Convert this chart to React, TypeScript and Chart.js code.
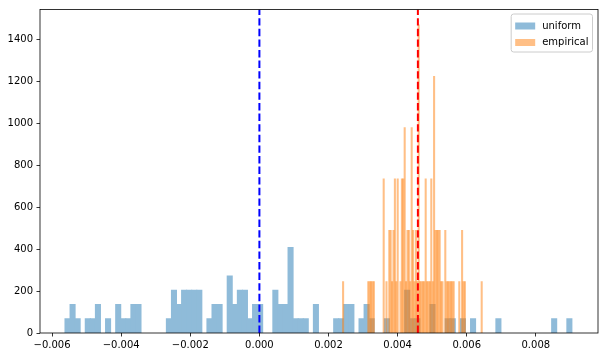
import React, { useEffect, useRef } from 'react';
import { Chart, registerables } from 'chart.js';

Chart.register(...registerables);

// ---- data ----
const seriesLabels = ['uniform', 'empirical'];

// histogram bin ranges (100 equal bins each)
const uniformRange = [-0.005627, 0.009045];
const empiricalRange = [0.002402, 0.006454];

// bar heights (density) per bin
const uniformDensity = [
  68, 136, 68, 0, 68, 68, 136, 0, 68, 0,
  136, 68, 68, 136, 136, 0, 0, 0, 0, 0,
  68, 204, 136, 204, 204, 204, 204, 0, 68, 136,
  136, 0, 272, 136, 204, 204, 68, 136, 136, 0,
  0, 204, 136, 136, 408, 68, 68, 68, 0, 136,
  0, 0, 0, 68, 68, 136, 136, 0, 68, 136,
  68, 0, 0, 68, 0, 0, 0, 204, 68, 68,
  0, 0, 136, 0, 0, 68, 68, 0, 68, 0,
  68, 0, 0, 0, 0, 68, 0, 0, 0, 0,
  0, 0, 0, 0, 0, 0, 68, 0, 0, 68,
];

const empiricalDensity = [
  245, 0, 0, 0, 0, 0, 0, 0, 0, 0,
  0, 0, 0, 0, 0, 0, 0, 0, 245, 245,
  245, 245, 245, 0, 0, 0, 0, 0, 0, 735,
  0, 245, 0, 490, 490, 245, 490, 735, 245, 735,
  0, 245, 735, 735, 980, 245, 490, 490, 245, 980,
  490, 245, 490, 245, 1470, 245, 245, 245, 245, 735,
  245, 245, 245, 735, 245, 1225, 490, 490, 490, 490,
  245, 245, 0, 490, 245, 245, 245, 245, 245, 245,
  0, 0, 0, 245, 0, 490, 245, 245, 0, 0,
  0, 0, 0, 0, 0, 0, 0, 0, 0, 245,
];

// vertical reference lines
const zeroLineX = 0;
const empiricalMeanX = 0.004587;

// axes
const xLimits = [-0.00635, 0.0098];
const yLimits = [0, 1543.5];
const xTickStep = 0.002;
const yTickStep = 200;

// ---- helpers ----
// one bar per bin, centred on the bin; empty bins keep their slot but draw nothing
function histogramBars(range: number[], heights: number[]) {
  const n = heights.length;
  const w = (range[1] - range[0]) / n;
  return heights.map((h, i) => ({ x: range[0] + (i + 0.5) * w, y: h === 0 ? null : h }));
}

const FONT = 'DejaVu Sans';

const framePlugin = {
  id: 'frameAndLegend',
  afterDraw(chart: any) {
    const ctx = chart.ctx as CanvasRenderingContext2D;
    const { left, right, top, bottom } = chart.chartArea;
    ctx.save();
    // spines
    ctx.strokeStyle = '#000';
    ctx.lineWidth = 0.8;
    ctx.strokeRect(left, top, right - left, bottom - top);

    // legend
    const items = chart.data.datasets.filter((d: any) => d.inLegend);
    ctx.font = `10px "${FONT}"`;
    const textW = Math.max(...items.map((d: any) => ctx.measureText(d.label).width));
    const boxW = 4 + 20 + 7 + textW + 4;
    const rowH = 16.5;
    const boxH = 4 + rowH * items.length + 1;
    const bx = right - 5.5 - boxW;
    const by = top + 4.5;
    ctx.fillStyle = 'rgba(255,255,255,0.8)';
    ctx.strokeStyle = '#cccccc';
    ctx.lineWidth = 1;
    ctx.beginPath();
    (ctx as any).roundRect(bx, by, boxW, boxH, 2.5);
    ctx.fill();
    ctx.stroke();
    items.forEach((d: any, i: number) => {
      const cy = by + 4 + rowH * i + 8;
      ctx.fillStyle = d.backgroundColor;
      ctx.fillRect(bx + 4, cy - 3.5, 20, 7);
      ctx.fillStyle = '#000';
      ctx.textBaseline = 'middle';
      ctx.textAlign = 'left';
      ctx.fillText(d.label, bx + 4 + 20 + 7, cy);
    });
    ctx.restore();
  },
};

function fmtX(v: number) {
  const s = Math.abs(v).toFixed(3);
  return (v < -1e-12 ? '\u2212' : '') + s;
}

const tickFont = { family: FONT, size: 10 };

export default function App() {
  const ref = useRef<HTMLCanvasElement>(null);

  useEffect(() => {
    if (!ref.current) return;
    const chart = new Chart(ref.current, {
      type: 'bar',
      data: {
        datasets: [
          {
            type: 'bar',
            label: seriesLabels[0],
            inLegend: true,
            xAxisID: 'x',
            data: histogramBars(uniformRange, uniformDensity),
            // C0 at alpha 0.5 over white
            backgroundColor: 'rgb(143,187,217)',
            borderWidth: 0,
            barPercentage: 1,
            categoryPercentage: 1,
            inflateAmount: 0.5,
            grouped: false,
            order: 4,
          },
          {
            type: 'bar',
            label: seriesLabels[1],
            inLegend: true,
            xAxisID: 'x2',
            data: histogramBars(empiricalRange, empiricalDensity),
            backgroundColor: 'rgba(255,127,14,0.5)',
            borderWidth: 0,
            barPercentage: 1,
            categoryPercentage: 1,
            grouped: false,
            order: 3,
          },
          {
            type: 'line',
            label: 'zero',
            xAxisID: 'x',
            data: [
              { x: zeroLineX, y: yLimits[0] },
              { x: zeroLineX, y: yLimits[1] },
            ],
            borderColor: '#0000ff',
            borderWidth: 2,
            borderDash: [7.4, 3.2],
            fill: false,
            pointRadius: 0,
            order: 2,
          },
          {
            type: 'line',
            label: 'mean',
            xAxisID: 'x',
            data: [
              { x: empiricalMeanX, y: yLimits[0] },
              { x: empiricalMeanX, y: yLimits[1] },
            ],
            borderColor: '#ff0000',
            borderWidth: 2,
            borderDash: [7.4, 3.2],
            fill: false,
            pointRadius: 0,
            order: 1,
          },
        ] as any,
      },
      options: {
        animation: false,
        responsive: false,
        events: [],
        layout: { padding: { left: 0, right: 6, top: 7, bottom: 0 } },
        plugins: { legend: { display: false }, tooltip: { enabled: false } },
        scales: {
          x: {
            type: 'linear',
            position: 'bottom',
            min: xLimits[0],
            max: xLimits[1],
            offset: false,
            border: { display: false },
            grid: { drawOnChartArea: false, drawTicks: true, tickLength: 3.5, color: '#000', lineWidth: 0.8, offset: false },
            ticks: {
              stepSize: xTickStep,
              includeBounds: false,
              autoSkip: false,
              maxRotation: 0,
              padding: 3,
              color: '#000',
              font: tickFont,
              callback: (v: any) => fmtX(Number(v)),
            },
            afterFit: (s: any) => {
              s.height = 24;
            },
          },
          x2: {
            type: 'linear',
            position: 'bottom',
            min: xLimits[0],
            max: xLimits[1],
            offset: false,
            display: false,
            grid: { offset: false },
          },
          y: {
            type: 'linear',
            min: yLimits[0],
            max: yLimits[1],
            border: { display: false },
            grid: { drawOnChartArea: false, drawTicks: true, tickLength: 3.5, color: '#000', lineWidth: 0.8 },
            ticks: {
              stepSize: yTickStep,
              includeBounds: false,
              autoSkip: false,
              padding: 3.5,
              color: '#000',
              font: tickFont,
              callback: (v: any) => String(Math.round(Number(v))),
            },
            afterFit: (s: any) => {
              s.width = 40;
            },
          },
        },
      } as any,
      plugins: [framePlugin],
    });
    return () => chart.destroy();
  }, []);

  return (
    <div style={{ position: 'fixed', left: 0, top: 0, width: 604, height: 357, background: '#fff' }}>
      <canvas ref={ref} width={604} height={357} style={{ display: 'block' }} />
    </div>
  );
}
